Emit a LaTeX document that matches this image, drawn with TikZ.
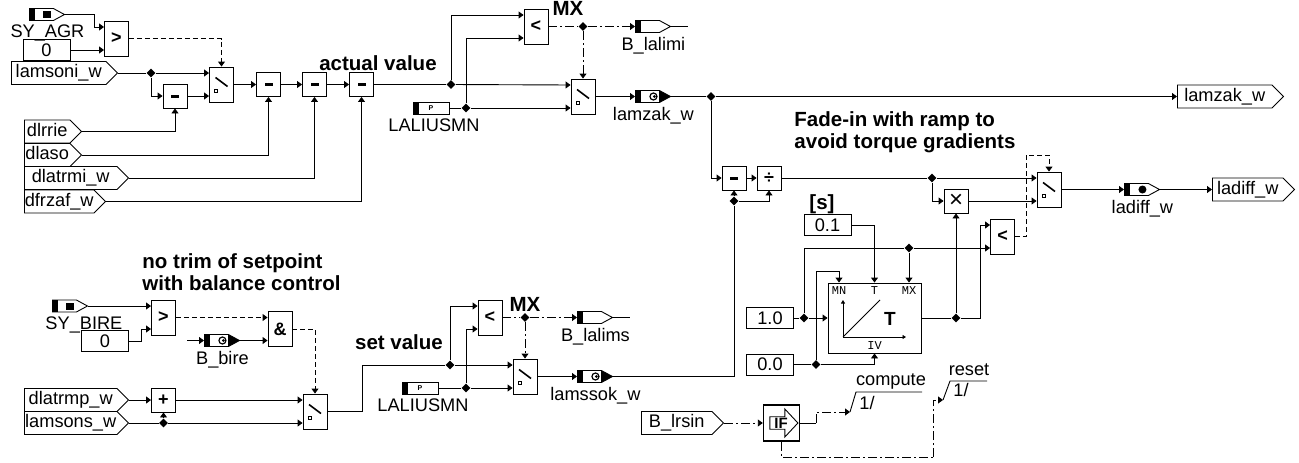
\documentclass[tikz,border=0pt]{standalone}
\usepackage{fontspec}
\setmainfont{Liberation Sans}
\setmonofont{Liberation Mono}
\usetikzlibrary{arrows.meta,shapes.geometric,shapes.symbols,shapes.arrows}
\newcommand{\ppb}{path picture bounding box}
\newcommand{\tipblack}{\fill ([xshift=24pt]\ppb.south west) rectangle (\ppb.north east);}
\newcommand{\glyphsq}{\fill ([xshift=14pt,yshift=-3.5pt]\ppb.west) rectangle ([xshift=22pt,yshift=3.5pt]\ppb.west);}
\newcommand{\glyphdot}{\fill ([xshift=18pt]\ppb.west) circle (4pt);}
\newcommand{\glyphring}{\draw[line width=1.2pt] ([xshift=18pt]\ppb.west) circle (3.5pt);\fill ([xshift=19pt]\ppb.west) circle (1.5pt);}
\tikzset{
  >={Triangle[length=5pt,width=7pt]},
  every node/.style={font=\fontsize{18.2}{20}\selectfont},
  every label/.style={inner sep=0pt,yshift=-3.5pt,font=\fontsize{18.2}{20}\selectfont},
  marklabel/.style={xshift=6pt},
  block/.style={rectangle,draw,inner sep=0pt,minimum width=24pt,minimum height=24pt,font=\bfseries\fontsize{18}{20}\selectfont},
  minus/.style={block,path picture={
    \fill ([xshift=-4pt,yshift=-1.5pt]\ppb.center) rectangle ([xshift=4pt,yshift=1.5pt]\ppb.center);}},
  tall/.style={block,minimum height=35pt},
  switch/.style={tall,path picture={
    \draw[line width=1.6pt] ([xshift=6pt,yshift=7pt]\ppb.west) -- ([xshift=18pt,yshift=-2pt]\ppb.west);
    \draw[line width=0.7pt] ([xshift=5pt,yshift=-8pt]\ppb.west) rectangle ([xshift=8pt,yshift=-5pt]\ppb.west);}},
  const/.style={rectangle,draw,inner sep=0pt,minimum width=47pt,minimum height=21pt},
  tag/.style={signal,signal to=east,signal from=nowhere,signal pointer angle=90,draw,inner sep=0pt,
    minimum height=23pt,text height=13pt,text depth=4pt,anchor=west},
  mark/.style={signal,signal to=east,signal from=nowhere,signal pointer angle=57,draw,inner sep=0pt,
    minimum width=35pt,minimum height=12pt,anchor=west,path picture={
    \fill (\ppb.south west) rectangle ([xshift=6pt]\ppb.north west);#1}},
  mark/.default={},
  parm/.style={rectangle,draw,inner sep=0pt,minimum width=36pt,minimum height=12pt,
    font=\bfseries\fontsize{7}{7}\selectfont,path picture={
    \fill (\ppb.south west) rectangle ([xshift=6pt]\ppb.north west);}},
  dot/.style={diamond,fill=black,inner sep=0pt,minimum size=9pt},
  note/.style={font=\bfseries\fontsize{20.5}{22}\selectfont,align=left,inner sep=0pt},
  port/.style={font=\ttfamily\fontsize{12}{12}\selectfont,inner sep=0pt},
  dash1/.style={dash pattern=on 5pt off 3pt},
  dash2/.style={dash pattern=on 9pt off 3pt on 2pt off 3pt},
  small/.style={>={Triangle[length=3.5pt,width=4pt]}}
}
\begin{document}
\begin{tikzpicture}[x=1pt,y=-1pt,line width=0.9pt]
\useasboundingbox (0,0) rectangle (1299,463);
% upper path
\node [mark={\glyphsq},label={[marklabel]below:{SY\_AGR}}] (syagr) at (29,14.5) {};
\node [const] (zeroa) at (46.5,50) {0};
\node [tall] (gtagr) at (116.5,38.5) {>};
\node [tag,minimum width=106pt] (lamsoni) at (11,73) {lamsoni\_w};
\node [dot] (jsoni) at (151,73) {};
\node [minus] (subrie) at (175,96) {};
\node [switch] (swagr) at (221.5,84.5) {};
\node [minus] (subaso) at (268.5,84.5) {};
\node [minus] (subtrm) at (314.5,84.5) {};
\node [minus] (subfrz) at (361.5,84.5) {};
\node [tag,minimum width=57pt] (dlrrie) at (24,131.5) {dlrrie};
\node [tag,minimum width=57pt] (dlaso) at (24,155) {dlaso};
\node [tag,minimum width=104pt] (dlatrmi) at (24,178) {dlatrmi\_w};
\node [tag,minimum width=81pt] (dfrzaf) at (24,201.5) {dfrzaf\_w};
\node [note] (actual) at (378,63) {actual value};
\node [dot] (jact) at (451,84.5) {};
\node [tall] (ltlim) at (536,26.5) {<};
\node [note] (mxa) at (568,8) {MX};
\node [parm,label={[xshift=3pt]below:LALIUSMN}] (lala) at (431,108) {P};
\node [dot] (jlala) at (466,108) {};
\node [switch] (swlim) at (583,96.5) {};
\node [dot] (jlim) at (583,26.5) {};
\node [mark,label={[marklabel]below:{B\_lalimi}}] (blalimi) at (635,26.5) {};
\coordinate (endlimi) at (688,26.5);
\node [mark={\tipblack\glyphring},label={[marklabel]below:{lamzak\_w}}] (lamzak) at (635,96.5) {};
\node [dot] (jzak) at (711,96.5) {};
\node [tag,minimum width=106pt] (lamzako) at (1177,96.5) {lamzak\_w};
% difference and ramp
\node [minus] (subdif) at (734,178) {};
\node [block] (divb) at (769,178) {÷};
\node [dot] (jssok) at (734,201) {};
\node [note] (fade) at (794,132.5) [anchor=west] {Fade-in with ramp to\\avoid torque gradients};
\node [dot] (jdiv) at (932,178) {};
\node [block,font=\fontsize{24}{24}\selectfont] (mulb) at (956,201) {×};
\node [switch] (swfade) at (1049,189.5) {};
\node [tall] (ltramp) at (1002.5,236.5) {<};
\coordinate (fadeup) at (1026,155);
\node [note] (unit) at (822,204) {[s]};
\node [const] (tconst) at (827.5,225) {0.1};
\node [const] (one) at (770,318) {1.0};
\node [const] (zeroc) at (770,364.5) {0.0};
\node [rectangle,draw,inner sep=0pt,minimum width=93pt,minimum height=70pt] (ramp) at (874.5,318) {};
\node [port] (pmn) at (839,291) {MN};
\node [port] (pt) at (874.5,291) {T};
\node [port] (pmx) at (909,291) {MX};
\node [port] (piv) at (874.5,346) {IV};
\node [font=\bfseries\fontsize{19}{20}\selectfont,inner sep=0pt] (rampt) at (890,319) {T};
\coordinate (rampo) at (843,337);
\coordinate (rampy) at (843,300);
\coordinate (rampx) at (906,337);
\coordinate (rampd) at (880,300);
\node [dot] (jone) at (804,318) {};
\node [dot] (jzero) at (816,364.5) {};
\coordinate (mnturn) at (816,271);
\node [dot] (jmx) at (909,248) {};
\node [dot] (jramp) at (956,318) {};
\coordinate (rampturn) at (980,318);
\node [mark={\glyphdot},label={[marklabel]below:{ladiff\_w}}] (ladiff) at (1124,189.5) {};
\node [tag,minimum width=82pt] (ladiffo) at (1212,189.5) {ladiff\_w};
% lower path
\node [note] (trim) at (142,272) [anchor=west] {no trim of setpoint\\with balance control};
\node [mark={\glyphsq},label={[xshift=19.5pt]below:{SY\_BIRE}}] (sybire) at (52,306) {};
\node [const] (zerob) at (105,341) {0};
\node [tall] (gtbire) at (163.5,317.5) {>};
\coordinate (stubbire) at (187,340.5);
\node [mark={\tipblack\glyphring},label={[marklabel]below:{B\_bire}}] (bbire) at (204,340.5) {};
\node [tall] (andb) at (280,329) {\&};
\node [tag,minimum width=104pt] (dlatrmp) at (24,400) {dlatrmp\_w};
\node [tag,minimum width=104pt] (lamsons) at (24,423) {lamsons\_w};
\node [block] (addb) at (163.5,400) {+};
\node [dot] (jsons) at (163.5,423) {};
\node [switch] (swbire) at (315,411.5) {};
\coordinate (setturn) at (362,411.5);
\node [note] (setval) at (399,342) {set value};
\node [dot] (jset) at (450,365) {};
\node [tall] (ltset) at (490,317.5) {<};
\node [note] (mxb) at (525,304) {MX};
\node [parm,label={[xshift=3pt]below:LALIUSMN}] (lalb) at (420,388) {P};
\node [dot] (jlalb) at (466,388) {};
\node [switch] (swset) at (525,376.5) {};
\node [dot] (jsetmx) at (525,317.5) {};
\node [mark,label={[marklabel]below:{B\_lalims}}] (blalims) at (577,317.5) {};
\coordinate (endlims) at (630,317.5);
\node [mark={\tipblack\glyphring},label={[marklabel]below:{lamssok\_w}}] (lamssok) at (577,376.5) {};
% function call
\node [tag,minimum width=82pt] (blrsin) at (641,423) {B\_lrsin};
\node [rectangle,draw,line width=1.4pt,inner sep=0pt,minimum size=36pt] (ifb) at (781.5,423) {};
\node [single arrow,draw,inner sep=0pt,minimum height=28pt,minimum width=28pt,
  single arrow head extend=7pt,single arrow tip angle=94,font=\bfseries\fontsize{15}{15}\selectfont] (ifa) at (781,423) {IF};
\coordinate (ifturn) at (816,423);
\coordinate (compa) at (850,412);
\coordinate (compb) at (856,392);
\coordinate (compc) at (922,392);
\node [inner sep=0pt] (compute) at (891,382) {compute};
\node [inner sep=0pt] (compone) at (867,403) {1/};
\coordinate (lowturn) at (933,457);
\coordinate (rsta) at (943,400);
\coordinate (rstb) at (950,381);
\coordinate (rstc) at (987,381);
\node [inner sep=0pt] (reset) at (969,370) {reset};
\node [inner sep=0pt] (rstone) at (961,390) {1/};
% connectors
\draw (syagr.east) -- ++(29,0) [->] |- ([yshift=11.5pt]gtagr.west);
\draw [->] (zeroa.east) -- ([yshift=-11.5pt]gtagr.west);
\draw [->,dash1] (gtagr.east) -| (swagr.north);
\draw (lamsoni.east) -- (jsoni);
\draw [->] (jsoni) -- ([yshift=11.5pt]swagr.west);
\draw [->] (jsoni) |- (subrie.west);
\draw [->] (subrie.east) -- ([yshift=-11.5pt]swagr.west);
\draw [->] (swagr.east) -- (subaso.west);
\draw [->] (subaso.east) -- (subtrm.west);
\draw [->] (subtrm.east) -- (subfrz.west);
\draw [->] (dlrrie.east) -| (subrie.south);
\draw [->] (dlaso.east) -| (subaso.south);
\draw [->] (dlatrmi.east) -| (subtrm.south);
\draw [->] (dfrzaf.east) -| (subfrz.south);
\draw (subfrz.east) -- (jact);
\draw [->] (jact) -- ([yshift=11.5pt]swlim.west);
\draw [->] (jact) |- ([yshift=11.5pt]ltlim.west);
\draw (lala.east) -- (jlala);
\draw [->] (jlala) -- ([yshift=-11.5pt]swlim.west);
\draw [->] (jlala) |- ([yshift=-11.5pt]ltlim.west);
\draw [dash2] (ltlim.east) -- (jlim);
\draw [->,dash2] (jlim) -- (blalimi.west);
\draw [->,dash2] (jlim) -- (swlim.north);
\draw (blalimi.east) -- (endlimi);
\draw [->] (swlim.east) -- (lamzak.west);
\draw (lamzak.east) -- (jzak);
\draw [->] (jzak) -- (lamzako.west);
\draw [->] (jzak) |- (subdif.west);
\draw [->] (subdif.east) -- (divb.west);
\draw [->] (jssok) -- (subdif.south);
\draw [->] (jssok) -| (divb.south);
\draw (divb.east) -- (jdiv);
\draw [->] (jdiv) -- ([yshift=11.5pt]swfade.west);
\draw [->] (jdiv) |- (mulb.west);
\draw [->] (mulb.east) -- ([yshift=-11.5pt]swfade.west);
\draw [->,dash1] (ltramp.east) -| (fadeup) -| (swfade.north);
\draw [->] (tconst.east) -| (ramp.north);
\draw (one.east) -- (jone);
\draw [->] (jone) -- (ramp.west);
\draw (jone) |- (jmx);
\draw [->] (jmx) -- ([yshift=-11.5pt]ltramp.west);
\draw [->] (jmx) -- (jmx |- ramp.north);
\draw (zeroc.east) -- (jzero);
\draw [->] (jzero) -| (ramp.south);
\draw [->] (jzero) -- (mnturn) -| ([xshift=-35.5pt]ramp.north);
\draw (ramp.east) -- (jramp);
\draw [->] (jramp) -- (mulb.south);
\draw [->] (jramp) -- (rampturn) |- ([yshift=11.5pt]ltramp.west);
\draw [small,<->] (rampy) -- (rampo) -- (rampx);
\draw (rampo) -- (rampd);
\draw [->] (swfade.east) -- (ladiff.west);
\draw [->] (ladiff.east) -- (ladiffo.west);
\draw [->] (sybire.east) -- ([yshift=11.5pt]gtbire.west);
\draw [->] (zerob.east) -- ++(12,0) |- ([yshift=-11.5pt]gtbire.west);
\draw [->,dash1] (gtbire.east) -- ([yshift=11.5pt]andb.west);
\draw [->] (stubbire) -- (bbire.west);
\draw [->] (bbire.east) -- ([yshift=-11.5pt]andb.west);
\draw [->,dash1] (andb.east) -| (swbire.north);
\draw [->] (dlatrmp.east) -- (addb.west);
\draw [->] (addb.east) -- ([yshift=11.5pt]swbire.west);
\draw (lamsons.east) -- (jsons);
\draw [->] (jsons) -- ([yshift=-11.5pt]swbire.west);
\draw [->] (jsons) -- (addb.south);
\draw (swbire.east) -- (setturn) |- (jset);
\draw [->] (jset) -- ([yshift=11.5pt]swset.west);
\draw [->] (jset) |- ([yshift=11.5pt]ltset.west);
\draw (lalb.east) -- (jlalb);
\draw [->] (jlalb) -- ([yshift=-11.5pt]swset.west);
\draw [->] (jlalb) |- ([yshift=-11.5pt]ltset.west);
\draw [dash2] (ltset.east) -- (jsetmx);
\draw [->,dash2] (jsetmx) -- (blalims.west);
\draw [->,dash2] (jsetmx) -- (swset.north);
\draw (blalims.east) -- (endlims);
\draw [->] (swset.east) -- (lamssok.west);
\draw (lamssok.east) -| (jssok);
\draw [->,dash2] (blrsin.east) -- (ifb.west);
\draw (ifb.east) -- (ifturn);
\draw [->,dash2] (ifturn) |- (compa);
\draw (compa) -- (compb) -- (compc);
\draw [dash2] (ifb.south) |- (lowturn);
\draw [->,dash2] (lowturn) |- (rsta);
\draw (rsta) -- (rstb) -- (rstc);
\end{tikzpicture}
\end{document}
